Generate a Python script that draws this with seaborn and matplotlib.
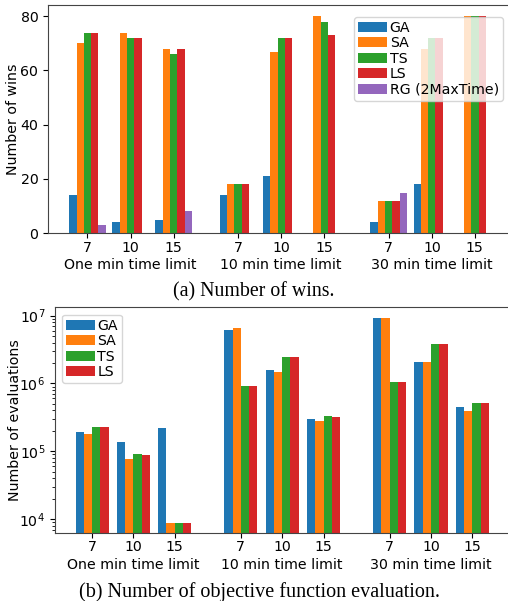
import numpy as np
import pandas as pd
import matplotlib
matplotlib.use("Agg")
import matplotlib.pyplot as plt
import seaborn as sns

# ---- data ----
methods_wins = ["GA", "SA", "TS", "LS", "RG (2MaxTime)"]
methods_eval = ["GA", "SA", "TS", "LS"]
sizes = ["7", "10", "15"]
time_limits = ["One min time limit", "10 min time limit", "30 min time limit"]

# one value per (time limit, size): 1min 7/10/15, 10min 7/10/15, 30min 7/10/15
ga_wins = [14, 4, 5, 14, 21, 0, 4, 18, 0]
sa_wins = [70, 74, 68, 18, 67, 80, 12, 68, 80]
ts_wins = [74, 72, 66, 18, 72, 78, 12, 72, 80]
ls_wins = [74, 72, 68, 18, 72, 73, 12, 72, 80]
rg_wins = [3, 0, 8, 0, 0, 0, 15, 0, 0]

ga_eval = [1.9e5, 1.35e5, 2.2e5, 6.2e6, 1.58e6, 2.95e5, 9.3e6, 2.07e6, 4.5e5]
sa_eval = [1.8e5, 7.8e4, 8.7e3, 6.6e6, 1.47e6, 2.8e5, 9.3e6, 2.1e6, 3.9e5]
ts_eval = [2.25e5, 9.1e4, 8.7e3, 9.2e5, 2.46e6, 3.3e5, 1.05e6, 3.8e6, 5.1e5]
ls_eval = [2.25e5, 8.7e4, 8.7e3, 9.2e5, 2.46e6, 3.2e5, 1.05e6, 3.8e6, 5.1e5]

colors = ["#1f77b4", "#ff7f0e", "#2ca02c", "#d62728", "#9467bd"]


def positions(gap):
    pos = []
    for g in range(3):
        for s in range(3):
            pos.append(g * (2 + gap) + s)
    return pos


def long_table(pos, series, names):
    rows = []
    for name, vals in zip(names, series):
        for p, v in zip(pos, vals):
            rows.append({"x": p, "method": name, "value": v})
    return pd.DataFrame(rows)


def label_groups(ax, pos):
    ax.set_xticks(pos)
    ax.set_xticklabels(sizes * 3)
    ax.set_xlabel("")
    ax.tick_params(axis="x", pad=2)
    # group names go under the middle size of each time limit
    for g, name in enumerate(time_limits):
        ax.annotate(name, xy=(pos[3 * g + 1], 0), xycoords=("data", "axes fraction"),
                    xytext=(0, -17.9), textcoords="offset points",
                    ha="center", va="top", fontsize=10.2)


fig = plt.figure(figsize=(5.08, 6.01), dpi=100)
plt.rcParams["font.size"] = 10.2

# ---------------- (a) number of wins ----------------
ax1 = fig.add_axes([0.0945, 0.612, 0.918, 0.379])
pos1 = positions(1.5)
df1 = long_table(pos1, [ga_wins, sa_wins, ts_wins, ls_wins, rg_wins], methods_wins)
sns.barplot(data=df1, x="x", y="value", hue="method", native_scale=True,
            palette=colors, width=0.85, errorbar=None, ax=ax1,
            saturation=1, linewidth=0)
label_groups(ax1, pos1)
ax1.set_ylabel("Number of wins")
ax1.yaxis.set_label_coords(-0.059, 0.5)
ax1.set_yticks([0, 20, 40, 60, 80])
h1 = ax1.get_legend().legend_handles
ax1.legend(h1, methods_wins, loc="upper right", labelspacing=0.1,
           handletextpad=0.2, borderpad=0.3, borderaxespad=0.8)

# ---------------- (b) number of evaluations ----------------
ax2 = fig.add_axes([0.108, 0.1136, 0.895, 0.3748])
pos2 = positions(1.6)
df2 = long_table(pos2, [ga_eval, sa_eval, ts_eval, ls_eval], methods_eval)
sns.barplot(data=df2, x="x", y="value", hue="method", native_scale=True,
            palette=colors[:4], width=0.8, errorbar=None, ax=ax2,
            saturation=1, linewidth=0)
ax2.set_yscale("log")
ax2.set_ylim(6280, 1.32e7)
label_groups(ax2, pos2)
ax2.set_ylabel("Number of evaluations")
ax2.yaxis.set_label_coords(-0.073, 0.5)
h2 = ax2.get_legend().legend_handles
ax2.legend(h2, methods_eval, loc="upper left", labelspacing=0.1,
           handletextpad=0.2, borderpad=0.3)

for ax in (ax1, ax2):
    for side in ("left", "bottom", "top", "right"):
        ax.spines[side].set_color("#444444")

fig.text(0.5, 1 - 291.7 / 601, "(a) Number of wins.", ha="center", va="center",
         family="Liberation Serif", fontsize=14.3)
fig.text(0.51, 1 - 591.7 / 601, "(b) Number of objective function evaluation.",
         ha="center", va="center", family="Liberation Serif", fontsize=14.5)

fig.savefig("out.png", dpi=100, facecolor="white")
